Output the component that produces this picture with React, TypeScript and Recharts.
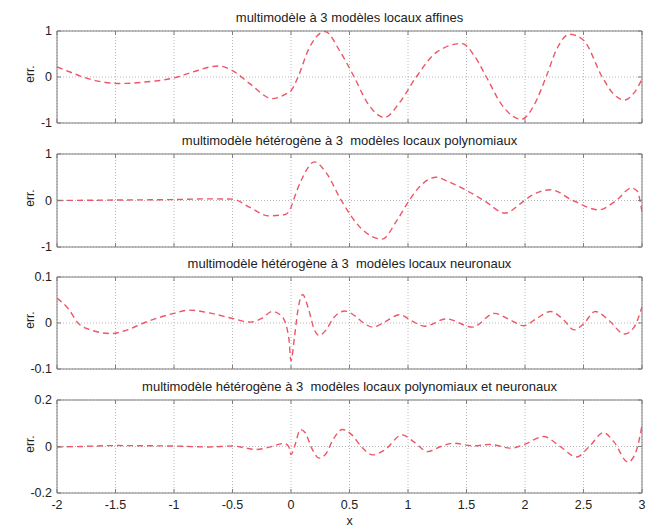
import React from 'react';
import { LineChart, Line, XAxis, YAxis, CartesianGrid } from 'recharts';

// ---- data ----
const xTicks = [-2, -1.5, -1, -0.5, 0, 0.5, 1, 1.5, 2, 2.5, 3];

const titles = [
  'multimodèle à 3 modèles locaux affines',
  'multimodèle hétérogène à 3  modèles locaux polynomiaux',
  'multimodèle hétérogène à 3  modèles locaux neuronaux',
  'multimodèle hétérogène à 3  modèles locaux polynomiaux et neuronaux',
];

const affX = [-2, -1.9, -1.8, -1.65, -1.45, -1.25, -1.0, -0.85, -0.62, -0.5, -0.35, -0.16, -0.03, 0.0, 0.06, 0.15, 0.29, 0.42, 0.54, 0.65, 0.8, 0.93, 1.07, 1.25, 1.46, 1.57, 1.67, 1.8, 1.97, 2.08, 2.18, 2.27, 2.38, 2.5, 2.66, 2.75, 2.85, 2.93, 3.0];
const affY = [0.22, 0.12, 0.02, -0.09, -0.14, -0.11, -0.02, 0.1, 0.24, 0.14, -0.15, -0.47, -0.35, -0.3, 0.0, 0.6, 0.99, 0.55, 0.0, -0.55, -0.88, -0.55, 0.0, 0.55, 0.73, 0.45, 0.0, -0.6, -0.92, -0.6, 0.0, 0.6, 0.93, 0.8, 0.0, -0.35, -0.5, -0.35, -0.05];

const polyX = [-2, -1.5, -1.0, -0.7, -0.5, -0.35, -0.19, -0.05, 0.0, 0.02, 0.1, 0.2, 0.3, 0.43, 0.6, 0.78, 0.9, 1.01, 1.1, 1.24, 1.35, 1.49, 1.65, 1.83, 1.97, 2.05, 2.22, 2.41, 2.63, 2.78, 2.91, 2.96, 3.0];
const polyY = [0.0, 0.01, 0.02, 0.035, 0.03, -0.15, -0.33, -0.3, -0.15, 0.0, 0.5, 0.83, 0.6, 0.0, -0.6, -0.83, -0.45, 0.0, 0.3, 0.5, 0.4, 0.23, 0.0, -0.27, -0.05, 0.1, 0.23, 0.0, -0.2, 0.0, 0.27, 0.2, -0.25];

const neurX = [-2, -1.9, -1.82, -1.7, -1.54, -1.4, -1.26, -1.0, -0.87, -0.7, -0.5, -0.35, -0.25, -0.16, -0.08, -0.02, 0.0, 0.03, 0.06, 0.1, 0.15, 0.2, 0.24, 0.3, 0.36, 0.46, 0.55, 0.62, 0.7, 0.8, 0.93, 1.03, 1.14, 1.33, 1.55, 1.74, 1.87, 1.99, 2.1, 2.22, 2.33, 2.42, 2.5, 2.6, 2.72, 2.85, 2.93, 3.0];
const neurY = [0.054, 0.03, 0.0, -0.016, -0.023, -0.015, 0.0, 0.021, 0.028, 0.022, 0.01, 0.002, 0.01, 0.025, 0.015, -0.03, -0.082, -0.03, 0.03, 0.062, 0.03, -0.015, -0.027, -0.015, 0.01, 0.026, 0.015, 0.0, -0.009, 0.002, 0.018, 0.005, -0.007, 0.009, -0.009, 0.021, 0.007, -0.006, 0.01, 0.025, 0.007, -0.015, -0.002, 0.025, 0.005, -0.024, -0.01, 0.035];

const mixX = [-2, -1.8, -1.5, -1.2, -1.0, -0.7, -0.5, -0.4, -0.3, -0.2, -0.06, -0.02, 0.0, 0.03, 0.08, 0.12, 0.18, 0.24, 0.3, 0.36, 0.44, 0.52, 0.6, 0.7, 0.8, 0.95, 1.05, 1.17, 1.28, 1.39, 1.56, 1.7, 1.88, 2.0, 2.16, 2.3, 2.44, 2.55, 2.67, 2.76, 2.88, 2.95, 3.0];
const mixY = [-0.002, 0.0, 0.004, 0.003, 0.002, -0.002, 0.002, -0.005, -0.013, -0.005, 0.013, 0.0, -0.035, 0.0, 0.073, 0.06, -0.01, -0.05, -0.03, 0.03, 0.073, 0.05, 0.0, -0.036, -0.015, 0.05, 0.02, -0.022, 0.0, 0.014, 0.003, 0.009, -0.007, 0.01, 0.043, 0.0, -0.045, 0.0, 0.06, 0.02, -0.067, -0.02, 0.09];

const yTicksList = [
  [-1, 0, 1],
  [-1, 0, 1],
  [-0.1, 0, 0.1],
  [-0.2, 0, 0.2],
];

const seriesX = [affX, polyX, neurX, mixX];
const seriesY = [affY, polyY, neurY, mixY];

// ---- layout ----
const W = 648;
const PLOT_LEFT = 57;
const PLOT_RIGHT = 642;
const plotTops = [31, 154, 277, 400];
const plotBottoms = [123, 247, 369, 493];
const TOP_PAD = 25;
const FONT = '"Liberation Sans", Arial, Helvetica, sans-serif';
const FRAME = '#7f7f7f';
const CURVE = '#ee5566';

const fmt = (v: number) => String(v);

const makeBottomTick = (showLabel: boolean) => (p: any) => (
  <g>
    <line x1={p.x} x2={p.x} y1={p.y} y2={p.y - 4} stroke={FRAME} />
    {showLabel && (
      <text x={p.x} y={p.y + 16} textAnchor="middle" fontSize={12.5} fontFamily={FONT} fill="#222">
        {fmt(p.payload.value)}
      </text>
    )}
  </g>
);
const topTick = (p: any) => (
  <line x1={p.x} x2={p.x} y1={p.y} y2={p.y + 4} stroke={FRAME} />
);
const leftTick = (p: any) => (
  <g>
    <line x1={p.x} x2={p.x + 4} y1={p.y} y2={p.y} stroke={FRAME} />
    <text x={p.x - 5} y={p.y + 4} textAnchor="end" fontSize={12.5} fontFamily={FONT} fill="#222">
      {fmt(p.payload.value)}
    </text>
  </g>
);
const rightTick = (p: any) => (
  <line x1={p.x} x2={p.x - 4} y1={p.y} y2={p.y} stroke={FRAME} />
);

function Panel({ i }: { i: number }) {
  const last = i === 3;
  const top = plotTops[i];
  const h = plotBottoms[i] - top;
  const bottomPad = last ? 35 : 10;
  const height = TOP_PAD + h + bottomPad;
  const data = seriesX[i].map((x, k) => ({ x, y: seriesY[i][k] }));
  const yt = yTicksList[i];
  const dom: [number, number] = [yt[0], yt[yt.length - 1]];
  return (
    <div style={{ position: 'absolute', left: 0, top: top - TOP_PAD, width: W, height }}>
      <LineChart
        width={W}
        height={height}
        data={data}
        margin={{ top: TOP_PAD - 1, left: PLOT_LEFT - 40, right: W - PLOT_RIGHT - 1, bottom: bottomPad - 1 }}
      >
        <CartesianGrid stroke="#b8b8b8" strokeDasharray="1 2" />
        <XAxis
          dataKey="x"
          type="number"
          domain={[-2, 3]}
          ticks={xTicks}
          allowDataOverflow
          height={1}
          tickSize={0}
          tickMargin={0}
          tickLine={false}
          axisLine={{ stroke: FRAME }}
          tick={makeBottomTick(last)}
          interval={0}
        />
        <XAxis
          xAxisId="t"
          orientation="top"
          dataKey="x"
          type="number"
          domain={[-2, 3]}
          ticks={xTicks}
          allowDataOverflow
          height={1}
          tickSize={0}
          tickMargin={0}
          tickLine={false}
          axisLine={{ stroke: FRAME }}
          tick={topTick}
          interval={0}
        />
        <YAxis
          type="number"
          domain={dom}
          ticks={yt}
          allowDataOverflow
          width={40}
          tickSize={0}
          tickMargin={0}
          tickLine={false}
          axisLine={{ stroke: FRAME }}
          tick={leftTick}
          interval={0}
        />
        <YAxis
          yAxisId="r"
          orientation="right"
          type="number"
          domain={dom}
          ticks={yt}
          allowDataOverflow
          width={1}
          tickSize={0}
          tickMargin={0}
          tickLine={false}
          axisLine={{ stroke: FRAME }}
          tick={rightTick}
          interval={0}
        />
        <Line
          type="monotone"
          dataKey="y"
          stroke={CURVE}
          strokeWidth={1.4}
          strokeDasharray="6 4"
          dot={false}
          isAnimationActive={false}
        />
      </LineChart>
      <div
        style={{
          position: 'absolute',
          left: PLOT_LEFT,
          width: PLOT_RIGHT - PLOT_LEFT,
          top: TOP_PAD - 13 - 8,
          lineHeight: '16px',
          fontSize: 13,
          fontFamily: FONT,
          textAlign: 'center',
          color: '#222',
          whiteSpace: 'pre',
        }}
      >
        {titles[i]}
      </div>
      <div
        style={{
          position: 'absolute',
          left: 10,
          width: 40,
          top: TOP_PAD + h / 2 - 7 - 3,
          lineHeight: '14px',
          fontSize: 12,
          fontFamily: FONT,
          textAlign: 'center',
          color: '#222',
          transform: 'rotate(-90deg)',
        }}
      >
        err.
      </div>
    </div>
  );
}

export default function App() {
  return (
    <div style={{ position: 'absolute', left: 0, top: 0, width: W, height: 528, background: '#fff', overflow: 'hidden' }}>
      {[0, 1, 2, 3].map((i) => (
        <Panel key={i} i={i} />
      ))}
      <div
        style={{
          position: 'absolute',
          left: PLOT_LEFT,
          width: PLOT_RIGHT - PLOT_LEFT,
          top: 514,
          lineHeight: '14px',
          fontSize: 12.5,
          fontFamily: FONT,
          textAlign: 'center',
          color: '#222',
        }}
      >
        x
      </div>
    </div>
  );
}
